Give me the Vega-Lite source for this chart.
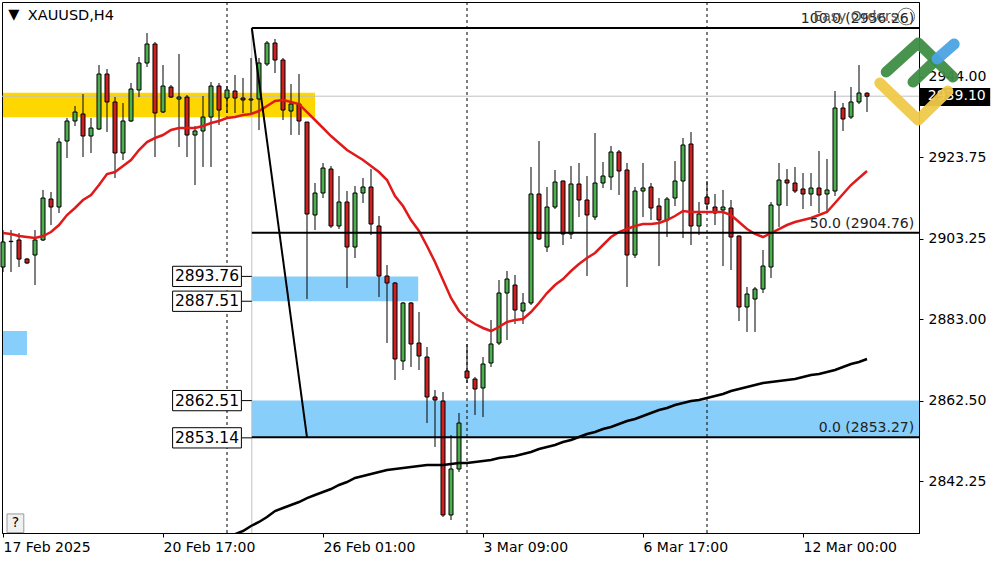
{
"$schema":"https://vega.github.io/schema/vega-lite/v6.json",
"width":917,"height":531,
"autosize":{"type":"none"},
"padding":{"left":2,"top":2,"right":81,"bottom":29},
"background":"white",
"config":{"font":"DejaVu Sans","view":{"stroke":"black","strokeWidth":1},"scale":{"continuousPadding":0}},
"datasets":{
"candles":[
{"i":0,"o":2896.12,"h":2905.43,"l":2894.86,"c":2902.42,"ma":2904.68},
{"i":1,"o":2902.50,"h":2905.43,"l":2894.86,"c":2902.60,"ma":2904.43},
{"i":2,"o":2902.92,"h":2904.68,"l":2896.12,"c":2898.13,"ma":2903.92},
{"i":3,"o":2898.13,"h":2898.40,"l":2896.90,"c":2897.13,"ma":2903.67},
{"i":4,"o":2899.14,"h":2905.43,"l":2891.59,"c":2902.92,"ma":2903.42},
{"i":5,"o":2902.92,"h":2915.50,"l":2902.67,"c":2913.48,"ma":2903.92},
{"i":6,"o":2913.23,"h":2915.00,"l":2906.69,"c":2911.22,"ma":2904.93},
{"i":7,"o":2911.22,"h":2928.58,"l":2909.71,"c":2927.57,"ma":2906.69},
{"i":8,"o":2927.82,"h":2933.61,"l":2923.55,"c":2932.86,"ma":2909.21},
{"i":9,"o":2932.86,"h":2936.63,"l":2931.60,"c":2935.12,"ma":2910.97},
{"i":10,"o":2934.62,"h":2939.65,"l":2923.80,"c":2929.08,"ma":2912.98},
{"i":11,"o":2929.08,"h":2933.61,"l":2924.81,"c":2931.10,"ma":2914.24},
{"i":12,"o":2930.84,"h":2946.95,"l":2930.59,"c":2944.68,"ma":2916.75},
{"i":13,"o":2944.68,"h":2945.94,"l":2930.09,"c":2937.64,"ma":2919.52},
{"i":14,"o":2937.64,"h":2938.89,"l":2918.52,"c":2924.81,"ma":2920.02},
{"i":15,"o":2924.81,"h":2937.39,"l":2923.04,"c":2932.86,"ma":2921.53},
{"i":16,"o":2932.86,"h":2942.42,"l":2932.60,"c":2940.91,"ma":2923.04},
{"i":17,"o":2940.66,"h":2948.96,"l":2938.89,"c":2947.45,"ma":2925.56},
{"i":18,"o":2947.45,"h":2955.00,"l":2946.44,"c":2952.23,"ma":2927.57},
{"i":19,"o":2952.23,"h":2952.73,"l":2923.80,"c":2934.87,"ma":2928.58},
{"i":20,"o":2935.12,"h":2946.95,"l":2934.87,"c":2941.66,"ma":2929.33},
{"i":21,"o":2941.41,"h":2941.91,"l":2938.64,"c":2938.89,"ma":2930.59},
{"i":22,"o":2938.39,"h":2949.71,"l":2926.31,"c":2938.89,"ma":2931.10},
{"i":23,"o":2938.89,"h":2939.40,"l":2923.80,"c":2929.33,"ma":2931.10},
{"i":24,"o":2929.33,"h":2931.60,"l":2916.75,"c":2930.34,"ma":2931.10},
{"i":25,"o":2930.34,"h":2939.15,"l":2921.28,"c":2933.86,"ma":2931.60},
{"i":26,"o":2933.86,"h":2942.67,"l":2921.28,"c":2941.66,"ma":2932.35},
{"i":27,"o":2941.66,"h":2942.42,"l":2931.85,"c":2935.62,"ma":2932.86},
{"i":28,"o":2938.64,"h":2941.66,"l":2934.87,"c":2940.66,"ma":2933.61},
{"i":29,"o":2940.40,"h":2944.43,"l":2934.87,"c":2938.64,"ma":2933.86,"mb":2828.9},
{"i":30,"o":2938.64,"h":2943.68,"l":2934.87,"c":2938.14,"ma":2934.37,"mb":2829.70},
{"i":31,"o":2938.14,"h":2948.71,"l":2934.87,"c":2938.39,"ma":2934.62,"mb":2830.96},
{"i":32,"o":2938.39,"h":2948.71,"l":2930.59,"c":2947.45,"ma":2935.37,"mb":2831.97},
{"i":33,"o":2947.20,"h":2952.98,"l":2946.69,"c":2952.48,"ma":2936.63,"mb":2833.22},
{"i":34,"o":2952.48,"h":2953.49,"l":2944.93,"c":2948.20,"ma":2937.89,"mb":2834.73},
{"i":35,"o":2948.20,"h":2948.71,"l":2933.11,"c":2935.62,"ma":2938.14,"mb":2835.49},
{"i":36,"o":2935.37,"h":2942.17,"l":2929.33,"c":2937.13,"ma":2937.64,"mb":2836.24},
{"i":37,"o":2937.13,"h":2944.68,"l":2929.33,"c":2932.86,"ma":2937.13,"mb":2837.00},
{"i":38,"o":2932.60,"h":2932.60,"l":2888.07,"c":2909.46,"ma":2935.12,"mb":2837.99},
{"i":39,"o":2909.21,"h":2917.26,"l":2905.43,"c":2914.74,"ma":2933.11,"mb":2838.76},
{"i":40,"o":2914.74,"h":2922.29,"l":2913.48,"c":2921.03,"ma":2931.10,"mb":2839.51},
{"i":41,"o":2920.78,"h":2921.53,"l":2905.94,"c":2906.44,"ma":2929.08,"mb":2840.27},
{"i":42,"o":2906.44,"h":2919.02,"l":2905.68,"c":2912.48,"ma":2927.32,"mb":2841.28},
{"i":43,"o":2912.48,"h":2915.24,"l":2890.84,"c":2901.15,"ma":2925.56,"mb":2842.03},
{"i":44,"o":2901.15,"h":2916.50,"l":2898.39,"c":2914.74,"ma":2924.30,"mb":2843.04},
{"i":45,"o":2914.74,"h":2918.52,"l":2912.23,"c":2916.25,"ma":2923.04,"mb":2843.54},
{"i":46,"o":2916.25,"h":2920.78,"l":2904.17,"c":2906.94,"ma":2921.53,"mb":2844.04},
{"i":47,"o":2906.44,"h":2908.95,"l":2888.58,"c":2893.86,"ma":2920.02,"mb":2844.54},
{"i":48,"o":2893.86,"h":2896.63,"l":2877.00,"c":2892.10,"ma":2918.01,"mb":2845.05},
{"i":49,"o":2892.10,"h":2892.35,"l":2867.69,"c":2872.98,"ma":2913.99,"mb":2845.30},
{"i":50,"o":2872.47,"h":2887.32,"l":2870.21,"c":2887.07,"ma":2911.47,"mb":2845.55},
{"i":51,"o":2887.07,"h":2887.32,"l":2870.96,"c":2876.75,"ma":2907.95,"mb":2845.80},
{"i":52,"o":2877.00,"h":2884.80,"l":2870.21,"c":2873.73,"ma":2905.18,"mb":2846.05},
{"i":53,"o":2873.48,"h":2876.00,"l":2856.87,"c":2863.42,"ma":2901.41,"mb":2846.31},
{"i":54,"o":2863.42,"h":2865.18,"l":2850.84,"c":2862.66,"ma":2897.38,"mb":2846.31},
{"i":55,"o":2862.41,"h":2864.67,"l":2833.22,"c":2833.73,"ma":2892.85,"mb":2846.31},
{"i":56,"o":2833.73,"h":2853.85,"l":2832.47,"c":2845.30,"ma":2888.32,"mb":2846.56},
{"i":57,"o":2845.30,"h":2859.39,"l":2844.54,"c":2856.87,"ma":2885.05,"mb":2846.81},
{"i":58,"o":2869.96,"h":2876.75,"l":2866.94,"c":2868.20,"ma":2883.04,"mb":2846.81},
{"i":59,"o":2867.94,"h":2868.45,"l":2858.89,"c":2865.43,"ma":2881.78,"mb":2847.06},
{"i":60,"o":2865.68,"h":2873.48,"l":2858.38,"c":2871.72,"ma":2880.78,"mb":2847.31},
{"i":61,"o":2871.97,"h":2882.79,"l":2870.96,"c":2876.75,"ma":2880.02,"mb":2847.56},
{"i":62,"o":2877.00,"h":2892.85,"l":2876.50,"c":2889.58,"ma":2881.03,"mb":2848.07},
{"i":63,"o":2889.58,"h":2895.12,"l":2877.76,"c":2893.10,"ma":2882.29,"mb":2848.32},
{"i":64,"o":2891.59,"h":2894.11,"l":2881.78,"c":2885.30,"ma":2882.79,"mb":2848.57},
{"i":65,"o":2885.05,"h":2889.58,"l":2881.78,"c":2887.07,"ma":2883.04,"mb":2849.07},
{"i":66,"o":2887.07,"h":2921.28,"l":2886.56,"c":2914.49,"ma":2884.80,"mb":2849.58},
{"i":67,"o":2914.49,"h":2927.82,"l":2902.90,"c":2903.17,"ma":2887.07,"mb":2850.33},
{"i":68,"o":2901.15,"h":2916.25,"l":2899.90,"c":2911.22,"ma":2889.58,"mb":2850.84},
{"i":69,"o":2911.22,"h":2920.53,"l":2910.72,"c":2917.51,"ma":2891.59,"mb":2851.34},
{"i":70,"o":2917.76,"h":2917.90,"l":2901.66,"c":2904.43,"ma":2893.10,"mb":2852.09},
{"i":71,"o":2904.43,"h":2921.53,"l":2903.17,"c":2917.01,"ma":2895.12,"mb":2852.60},
{"i":72,"o":2917.01,"h":2922.29,"l":2908.70,"c":2912.98,"ma":2896.88,"mb":2853.35},
{"i":73,"o":2912.98,"h":2919.02,"l":2893.86,"c":2909.21,"ma":2898.39,"mb":2854.11},
{"i":74,"o":2908.70,"h":2929.84,"l":2907.95,"c":2917.26,"ma":2899.65,"mb":2854.61},
{"i":75,"o":2917.26,"h":2922.54,"l":2916.00,"c":2919.02,"ma":2901.66,"mb":2855.37},
{"i":76,"o":2918.77,"h":2926.57,"l":2915.50,"c":2925.06,"ma":2903.67,"mb":2855.87},
{"i":77,"o":2925.06,"h":2925.56,"l":2914.24,"c":2920.28,"ma":2904.93,"mb":2856.62},
{"i":78,"o":2920.53,"h":2922.29,"l":2891.09,"c":2899.14,"ma":2905.68,"mb":2857.38},
{"i":79,"o":2899.14,"h":2916.25,"l":2898.39,"c":2915.24,"ma":2906.44,"mb":2857.88},
{"i":80,"o":2915.24,"h":2922.29,"l":2908.70,"c":2916.00,"ma":2906.94,"mb":2858.63},
{"i":81,"o":2916.25,"h":2917.26,"l":2907.95,"c":2910.97,"ma":2906.94,"mb":2859.39},
{"i":82,"o":2911.47,"h":2913.48,"l":2896.37,"c":2907.95,"ma":2907.19,"mb":2860.14},
{"i":83,"o":2907.95,"h":2913.73,"l":2903.67,"c":2913.23,"ma":2907.95,"mb":2860.65},
{"i":84,"o":2913.48,"h":2922.79,"l":2911.47,"c":2917.76,"ma":2908.95,"mb":2861.40},
{"i":85,"o":2917.76,"h":2928.58,"l":2903.42,"c":2926.82,"ma":2910.21,"mb":2861.91},
{"i":86,"o":2927.07,"h":2930.09,"l":2901.66,"c":2906.44,"ma":2909.96,"mb":2862.41},
{"i":87,"o":2906.44,"h":2912.48,"l":2904.17,"c":2909.46,"ma":2909.96,"mb":2862.66},
{"i":88,"o":2913.73,"h":2917.76,"l":2910.46,"c":2911.97,"ma":2909.96,"mb":2863.16},
{"i":89,"o":2911.22,"h":2914.49,"l":2906.69,"c":2909.71,"ma":2909.96,"mb":2863.67},
{"i":90,"o":2910.46,"h":2915.50,"l":2896.37,"c":2911.22,"ma":2909.96,"mb":2864.17},
{"i":91,"o":2910.97,"h":2912.98,"l":2895.37,"c":2903.67,"ma":2909.21,"mb":2864.92},
{"i":92,"o":2903.92,"h":2904.10,"l":2882.54,"c":2886.06,"ma":2907.45,"mb":2865.43},
{"i":93,"o":2886.06,"h":2891.09,"l":2879.77,"c":2889.33,"ma":2905.68,"mb":2865.93},
{"i":94,"o":2888.07,"h":2891.09,"l":2879.77,"c":2890.59,"ma":2904.43,"mb":2866.44},
{"i":95,"o":2890.59,"h":2900.40,"l":2889.58,"c":2896.37,"ma":2903.67,"mb":2866.94},
{"i":96,"o":2896.12,"h":2912.48,"l":2893.36,"c":2911.72,"ma":2904.68,"mb":2867.19},
{"i":97,"o":2911.72,"h":2922.29,"l":2906.19,"c":2918.01,"ma":2905.68,"mb":2867.44},
{"i":98,"o":2918.01,"h":2920.78,"l":2911.47,"c":2917.26,"ma":2906.69,"mb":2867.69},
{"i":99,"o":2917.26,"h":2921.28,"l":2914.74,"c":2915.24,"ma":2907.45,"mb":2867.94},
{"i":100,"o":2915.75,"h":2919.77,"l":2910.72,"c":2914.49,"ma":2907.95,"mb":2868.45},
{"i":101,"o":2914.49,"h":2919.77,"l":2911.47,"c":2916.00,"ma":2908.45,"mb":2868.95},
{"i":102,"o":2916.00,"h":2925.31,"l":2909.71,"c":2914.24,"ma":2909.21,"mb":2869.20},
{"i":103,"o":2914.49,"h":2923.30,"l":2909.71,"c":2915.50,"ma":2909.96,"mb":2869.71},
{"i":104,"o":2915.24,"h":2940.40,"l":2913.99,"c":2936.13,"ma":2912.23,"mb":2870.21},
{"i":105,"o":2936.13,"h":2937.39,"l":2930.34,"c":2933.36,"ma":2914.49,"mb":2870.96},
{"i":106,"o":2933.86,"h":2941.41,"l":2933.36,"c":2937.64,"ma":2916.75,"mb":2871.72},
{"i":107,"o":2937.64,"h":2946.95,"l":2937.13,"c":2939.90,"ma":2918.52,"mb":2872.22},
{"i":108,"o":2939.85,"h":2940.10,"l":2935.12,"c":2939.10,"ma":2920.28,"mb":2872.98}
],
"zones":[
{"x1":0,"x2":39,"p1":2939.98,"p2":2933.79,"col":"yellow"},
{"x1":31.1,"x2":51.9,"p1":2893.76,"p2":2887.51,"col":"blue"},
{"x1":31.1,"x2":114.5,"p1":2862.51,"p2":2853.14,"col":"blue"},
{"x1":0,"x2":3,"p1":2880.02,"p2":2873.98,"col":"blue"}
],
"seps":[{"i":28},{"i":58},{"i":88}],
"fib":[
{"p":2956.26,"t":"100.0 (2956.26)"},
{"p":2904.76,"t":"50.0 (2904.76)"},
{"p":2853.27,"t":"0.0 (2853.27)"}
],
"boxes":[
{"p":2893.76,"hi":2896.31,"lo":2891.21,"t":"2893.76"},
{"p":2887.51,"hi":2890.06,"lo":2884.96,"t":"2887.51"},
{"p":2862.51,"hi":2865.06,"lo":2859.96,"t":"2862.51"},
{"p":2853.14,"hi":2855.69,"lo":2850.59,"t":"2853.14"}
],
"logo":[
{"s":"g1","k":1,"i":110.4,"p":2945.19,"col":"g"},{"s":"g1","k":2,"i":114.4,"p":2952.48,"col":"g"},{"s":"g1","k":3,"i":118.75,"p":2943.93,"col":"g"},
{"s":"g3","k":1,"i":113.75,"p":2942.67,"col":"g"},{"s":"g3","k":2,"i":116.1,"p":2947.2,"col":"g"},
{"s":"b1","k":1,"i":116.75,"p":2948.46,"col":"b"},{"s":"b1","k":2,"i":118.9,"p":2952.23,"col":"b"},
{"s":"y1","k":1,"i":109.6,"p":2942.42,"col":"y"},{"s":"y1","k":2,"i":114.4,"p":2933.11,"col":"y"},{"s":"y1","k":3,"i":118.1,"p":2940.4,"col":"y"}
]
},
"layer":[
{"data":{"name":"zones"},"mark":{"type":"rect"},
 "encoding":{
  "x":{"field":"x1","type":"quantitative","title":null,"scale":{"domain":[-0.125,114.5],"nice":false,"zero":false,"padding":0},
   "axis":{"values":[0,20,40,60,80,100],"labelExpr":"['17 Feb 2025','20 Feb 17:00','26 Feb 01:00','3 Mar 09:00','6 Mar 17:00','12 Mar 00:00'][round(datum.value/20)]","labelAlign":"left","labelFlush":false,"labelOverlap":false,"tickSize":4,"tickColor":"black","domainColor":"black","labelFontSize":14,"labelColor":"black","labelPadding":3,"title":null,"grid":false,"labelFont":"DejaVu Sans"}},
  "x2":{"field":"x2"},
  "y":{"field":"p1","type":"quantitative","title":null,"scale":{"domain":[2829.2,2962.8],"nice":false,"zero":false,"padding":0},
   "axis":{"orient":"right","values":[2842.25,2862.5,2883,2903.25,2923.75,2944],"format":".2f","tickSize":4,"tickColor":"black","domainColor":"black","labelFontSize":14,"labelColor":"black","labelPadding":5,"title":null,"grid":false,"labelFlush":false,"labelOverlap":false,"labelFont":"DejaVu Sans"}},
  "y2":{"field":"p2"},
  "fill":{"field":"col","type":"nominal","scale":{"domain":["yellow","blue"],"range":["#FFD700","#87CEFA"]},"legend":null}}},
{"data":{"values":[{"p":2939.10}]},"mark":{"type":"rule","color":"#c0c0c0","strokeWidth":1},
 "encoding":{"y":{"field":"p","type":"quantitative","title":null,"scale":{"domain":[2829.2,2962.8],"nice":false,"zero":false,"padding":0}}}},
{"data":{"name":"seps"},"mark":{"type":"rule","color":"black","strokeWidth":1,"strokeDash":[3,3]},
 "encoding":{"x":{"field":"i","type":"quantitative","title":null,"scale":{"domain":[-0.125,114.5],"nice":false,"zero":false,"padding":0}}}},
{"data":{"values":[{"i":31.1,"p1":2956.26,"p2":2829.2}]},"mark":{"type":"rule","color":"#c0c0c0","strokeWidth":1},
 "encoding":{"x":{"field":"i","type":"quantitative","title":null,"scale":{"domain":[-0.125,114.5],"nice":false,"zero":false,"padding":0}},"y":{"field":"p1","type":"quantitative","title":null,"scale":{"domain":[2829.2,2962.8],"nice":false,"zero":false,"padding":0}},"y2":{"field":"p2"}}},
{"data":{"name":"candles"},"mark":{"type":"rule","color":"black","strokeWidth":1},
 "encoding":{
  "x":{"field":"i","type":"quantitative","title":null,"scale":{"domain":[-0.125,114.5],"nice":false,"zero":false,"padding":0}},
  "y":{"field":"l","type":"quantitative","title":null,"scale":{"domain":[2829.2,2962.8],"nice":false,"zero":false,"padding":0}},
  "y2":{"field":"h"}}},
{"data":{"name":"candles"},"mark":{"type":"bar","width":4,"stroke":"black","strokeWidth":1},
 "encoding":{
  "x":{"field":"i","type":"quantitative","title":null,"scale":{"domain":[-0.125,114.5],"nice":false,"zero":false,"padding":0}},
  "y":{"field":"o","type":"quantitative","title":null,"scale":{"domain":[2829.2,2962.8],"nice":false,"zero":false,"padding":0}},
  "y2":{"field":"c"},
  "fill":{"condition":{"test":"datum.c < datum.o","value":"#cf2020"},"value":"#4cae4c"}}},
{"data":{"name":"candles"},"mark":{"type":"line","color":"#e01a1a","strokeWidth":2.5},
 "encoding":{"x":{"field":"i","type":"quantitative","title":null,"scale":{"domain":[-0.125,114.5],"nice":false,"zero":false,"padding":0}},"y":{"field":"ma","type":"quantitative","title":null,"scale":{"domain":[2829.2,2962.8],"nice":false,"zero":false,"padding":0}}}},
{"data":{"name":"candles"},"transform":[{"filter":"isValid(datum.mb)"}],"mark":{"type":"line","color":"black","strokeWidth":2.5,"clip":true},
 "encoding":{"x":{"field":"i","type":"quantitative","title":null,"scale":{"domain":[-0.125,114.5],"nice":false,"zero":false,"padding":0}},"y":{"field":"mb","type":"quantitative","title":null,"scale":{"domain":[2829.2,2962.8],"nice":false,"zero":false,"padding":0}}}},
{"data":{"name":"fib"},"mark":{"type":"rule","color":"black","strokeWidth":2},
 "encoding":{"x":{"datum":31.1,"type":"quantitative","title":null,"scale":{"domain":[-0.125,114.5],"nice":false,"zero":false,"padding":0}},"x2":{"datum":114.5},"y":{"field":"p","type":"quantitative","title":null,"scale":{"domain":[2829.2,2962.8],"nice":false,"zero":false,"padding":0}}}},
{"data":{"values":[{"i1":31.1,"p1":2956.26,"i2":38,"p2":2853.27}]},"mark":{"type":"rule","color":"black","strokeWidth":2},
 "encoding":{"x":{"field":"i1","type":"quantitative","title":null,"scale":{"domain":[-0.125,114.5],"nice":false,"zero":false,"padding":0}},"x2":{"field":"i2"},"y":{"field":"p1","type":"quantitative","title":null,"scale":{"domain":[2829.2,2962.8],"nice":false,"zero":false,"padding":0}},"y2":{"field":"p2"}}},
{"data":{"name":"fib"},"mark":{"type":"text","align":"right","baseline":"middle","dy":-9,"fontSize":14,"color":"#222"},
 "encoding":{"x":{"datum":113.9,"type":"quantitative","title":null,"scale":{"domain":[-0.125,114.5],"nice":false,"zero":false,"padding":0}},"y":{"field":"p","type":"quantitative","title":null,"scale":{"domain":[2829.2,2962.8],"nice":false,"zero":false,"padding":0}},"text":{"field":"t"}}},
{"data":{"values":[{"i":101.3,"p":2959.0,"t":"Easy Orders"}]},"mark":{"type":"text","align":"left","baseline":"middle","fontSize":14,"color":"#555"},
 "encoding":{"x":{"field":"i","type":"quantitative","title":null,"scale":{"domain":[-0.125,114.5],"nice":false,"zero":false,"padding":0}},"y":{"field":"p","type":"quantitative","title":null,"scale":{"domain":[2829.2,2962.8],"nice":false,"zero":false,"padding":0}},"text":{"field":"t"}}},
{"data":{"values":[{"i":112.9,"p":2959.15}]},"mark":{"type":"point","shape":"circle","size":280,"filled":false,"color":"#333","strokeWidth":1},
 "encoding":{"x":{"field":"i","type":"quantitative","title":null,"scale":{"domain":[-0.125,114.5],"nice":false,"zero":false,"padding":0}},"y":{"field":"p","type":"quantitative","title":null,"scale":{"domain":[2829.2,2962.8],"nice":false,"zero":false,"padding":0}}}},
{"data":{"name":"boxes"},"mark":{"type":"rule","color":"black","strokeWidth":1},
 "encoding":{"x":{"datum":29.8,"type":"quantitative","title":null,"scale":{"domain":[-0.125,114.5],"nice":false,"zero":false,"padding":0}},"x2":{"datum":31.1},"y":{"field":"p","type":"quantitative","title":null,"scale":{"domain":[2829.2,2962.8],"nice":false,"zero":false,"padding":0}}}},
{"data":{"name":"boxes"},"mark":{"type":"rect","fill":"white","stroke":"black","strokeWidth":1},
 "encoding":{"x":{"datum":21.2,"type":"quantitative","title":null,"scale":{"domain":[-0.125,114.5],"nice":false,"zero":false,"padding":0}},"x2":{"datum":29.8},"y":{"field":"hi","type":"quantitative","title":null,"scale":{"domain":[2829.2,2962.8],"nice":false,"zero":false,"padding":0}},"y2":{"field":"lo"}}},
{"data":{"name":"boxes"},"mark":{"type":"text","align":"center","baseline":"middle","fontSize":15.5,"color":"black"},
 "encoding":{"x":{"datum":25.5,"type":"quantitative","title":null,"scale":{"domain":[-0.125,114.5],"nice":false,"zero":false,"padding":0}},"y":{"field":"p","type":"quantitative","title":null,"scale":{"domain":[2829.2,2962.8],"nice":false,"zero":false,"padding":0}},"text":{"field":"t"}}},
{"data":{"values":[{"i":0.65,"p":2959.6,"t":"▼"},{"i":3.1,"p":2959.27,"t":"XAUUSD,H4"}]},"mark":{"type":"text","align":"left","baseline":"middle","fontSize":14.5,"color":"black"},
 "encoding":{"x":{"field":"i","type":"quantitative","title":null,"scale":{"domain":[-0.125,114.5],"nice":false,"zero":false,"padding":0}},"y":{"field":"p","type":"quantitative","title":null,"scale":{"domain":[2829.2,2962.8],"nice":false,"zero":false,"padding":0}},"text":{"field":"t"}}},
{"data":{"values":[{"x1":0.5,"x2":2.6,"p1":2834.0,"p2":2829.3}]},"mark":{"type":"rect","fill":"#f0f0f0","stroke":"#999","strokeWidth":1},
 "encoding":{"x":{"field":"x1","type":"quantitative","title":null,"scale":{"domain":[-0.125,114.5],"nice":false,"zero":false,"padding":0}},"x2":{"field":"x2"},"y":{"field":"p1","type":"quantitative","title":null,"scale":{"domain":[2829.2,2962.8],"nice":false,"zero":false,"padding":0}},"y2":{"field":"p2"}}},
{"data":{"values":[{"i":1.55,"p":2831.7,"t":"?"}]},"mark":{"type":"text","align":"center","baseline":"middle","fontSize":14,"color":"black"},
 "encoding":{"x":{"field":"i","type":"quantitative","title":null,"scale":{"domain":[-0.125,114.5],"nice":false,"zero":false,"padding":0}},"y":{"field":"p","type":"quantitative","title":null,"scale":{"domain":[2829.2,2962.8],"nice":false,"zero":false,"padding":0}},"text":{"field":"t"}}},
{"data":{"values":[{"x1":114.5,"x2":123.4,"p1":2941.16,"p2":2936.63}]},"mark":{"type":"rect","fill":"black","clip":false},
 "encoding":{"x":{"field":"x1","type":"quantitative","title":null,"scale":{"domain":[-0.125,114.5],"nice":false,"zero":false,"padding":0}},"x2":{"field":"x2"},"y":{"field":"p1","type":"quantitative","title":null,"scale":{"domain":[2829.2,2962.8],"nice":false,"zero":false,"padding":0}},"y2":{"field":"p2"}}},
{"data":{"values":[{"i":115.6,"p":2939.10,"t":"2939.10"}]},"mark":{"type":"text","align":"left","baseline":"middle","fontSize":14,"color":"white"},
 "encoding":{"x":{"field":"i","type":"quantitative","title":null,"scale":{"domain":[-0.125,114.5],"nice":false,"zero":false,"padding":0}},"y":{"field":"p","type":"quantitative","title":null,"scale":{"domain":[2829.2,2962.8],"nice":false,"zero":false,"padding":0}},"text":{"field":"t"}}},
{"data":{"name":"logo"},"mark":{"type":"line","strokeWidth":11,"strokeCap":"round","strokeJoin":"round","clip":false,"opacity":0.95},
 "encoding":{"x":{"field":"i","type":"quantitative","title":null,"scale":{"domain":[-0.125,114.5],"nice":false,"zero":false,"padding":0}},"y":{"field":"p","type":"quantitative","title":null,"scale":{"domain":[2829.2,2962.8],"nice":false,"zero":false,"padding":0}},"detail":{"field":"s"},"order":{"field":"k"},
  "color":{"field":"col","type":"nominal","scale":{"domain":["g","b","y"],"range":["#3e8e46","#4ba3e3","#f0c94a"]},"legend":null}}}
]
}
